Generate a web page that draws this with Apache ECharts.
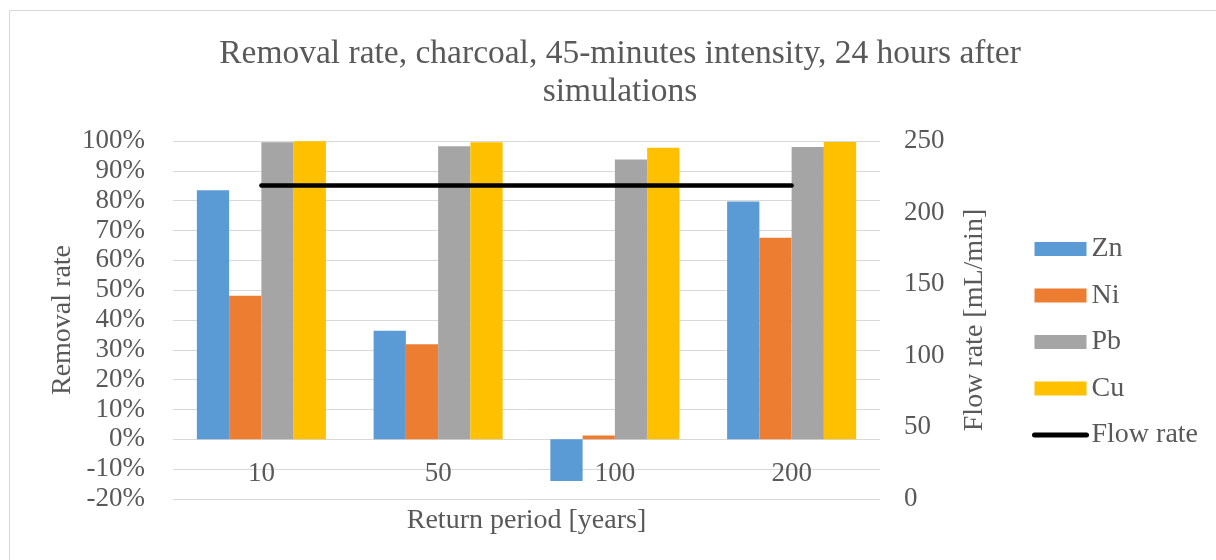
<!DOCTYPE html>
<html>
<head>
<meta charset="utf-8">
<script src="https://cdn.jsdelivr.net/npm/echarts@6/dist/echarts.min.js"></script>
<style>
html,body{margin:0;padding:0;background:#fff;}
#frame{position:absolute;left:9px;top:10px;width:1220px;height:560px;border:1px solid #d9d9d9;box-sizing:border-box;}
#chart{position:absolute;left:0;top:0;width:1216px;height:560px;}
</style>
</head>
<body>
<div id="frame"></div>
<div id="chart"></div>
<script>
const categories = ['10', '50', '100', '200'];
const zn = [83.5, 36.4, -14.0, 79.7];
const ni = [48.1, 31.9, 1.3, 67.6];
const pb = [99.6, 98.2, 93.8, 98.0];
const cu = [99.9, 99.6, 97.7, 99.7];
const flowRate = [219, 219, 219, 219];

const font = 'Liberation Serif';
const txt = '#595959';
const chart = echarts.init(document.getElementById('chart'), null, {renderer: 'canvas'});
const barSeries = (name, data, color) => ({
  name, type: 'bar', data, yAxisIndex: 0, barGap: '0%', barCategoryGap: '27%',
  itemStyle: {color}
});
chart.setOption({
  animation: false,
  textStyle: {fontFamily: font},
  title: {
    text: 'Removal rate, charcoal, 45-minutes intensity, 24 hours after\nsimulations',
    left: 615, top: 30, textAlign: 'center',
    textStyle: {fontFamily: font, fontSize: 33.5, fontWeight: 'normal', color: txt, lineHeight: 38}
  },
  legend: {
    orient: 'vertical', left: 1027, top: 230, itemWidth: 52, itemHeight: 14, itemGap: 18.5,
    textStyle: {fontFamily: font, fontSize: 28, color: txt},
    data: [
      {name: 'Zn', icon: 'rect'}, {name: 'Ni', icon: 'rect'}, {name: 'Pb', icon: 'rect'}, {name: 'Cu', icon: 'rect'},
      {name: 'Flow rate', itemStyle: {opacity: 0}, lineStyle: {width: 5, cap: 'round', color: '#000'}}
    ]
  },
  grid: {left: 173, right: 336, top: 141, bottom: 61, outerBoundsMode: 'none', containLabel: false},
  xAxis: {
    type: 'category', data: categories,
    axisLine: {show: false, onZero: false},
    axisTick: {show: false},
    axisLabel: {fontFamily: font, fontSize: 27, color: txt, margin: -39},
    name: 'Return period [years]', nameLocation: 'middle', nameGap: 8, nameMoveOverlap: false,
    nameTextStyle: {fontFamily: font, fontSize: 28, color: txt}
  },
  yAxis: [{
    type: 'value', min: -20, max: 100, interval: 10,
    axisLabel: {formatter: '{value}%', fontFamily: font, fontSize: 27, color: txt, margin: 28},
    splitLine: {lineStyle: {color: '#d9d9d9', width: 1}},
    axisLine: {show: false}, axisTick: {show: false},
    name: 'Removal rate', nameLocation: 'middle', nameGap: 96, nameRotate: 90, nameMoveOverlap: false,
    nameTextStyle: {fontFamily: font, fontSize: 28, color: txt}
  }, {
    type: 'value', min: 0, max: 250, interval: 50, position: 'right',
    axisLabel: {fontFamily: font, fontSize: 27, color: txt, margin: 24},
    splitLine: {show: false}, axisLine: {show: false}, axisTick: {show: false},
    name: 'Flow rate [mL/min]', nameLocation: 'middle', nameGap: 81, nameRotate: 90, nameMoveOverlap: false,
    nameTextStyle: {fontFamily: font, fontSize: 28, color: txt}
  }],
  series: [
    barSeries('Zn', zn, '#5b9bd5'),
    barSeries('Ni', ni, '#ed7d31'),
    barSeries('Pb', pb, '#a5a5a5'),
    barSeries('Cu', cu, '#ffc000'),
    {name: 'Flow rate', type: 'line', yAxisIndex: 1, data: flowRate, symbol: 'none',
     itemStyle: {color: '#000'}, lineStyle: {color: '#000', width: 4.5, cap: 'round'}}
  ]
});
</script>
</body>
</html>
